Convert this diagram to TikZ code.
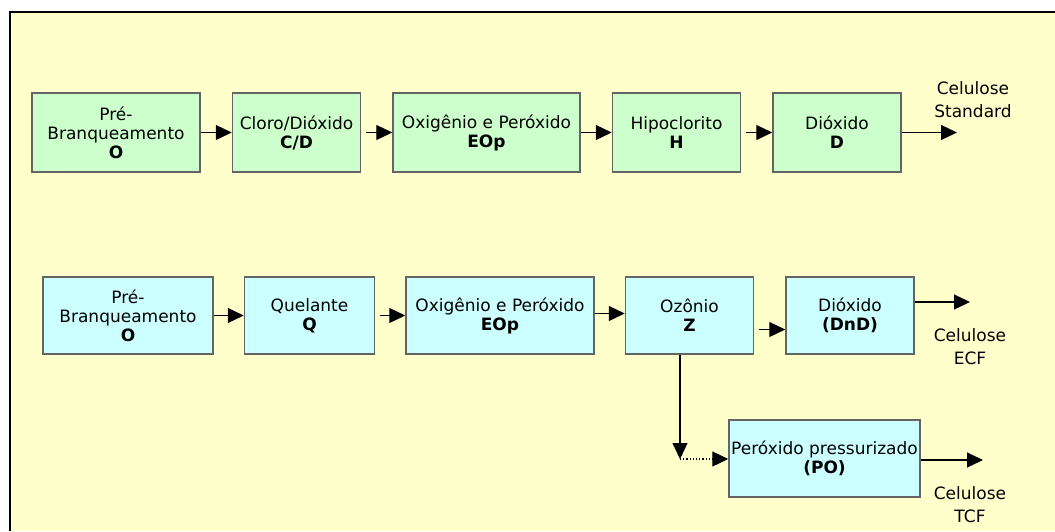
\documentclass[tikz,border=0pt]{standalone}
\usepackage{fontspec}
\setmainfont{DejaVu Sans}
\usepackage{xcolor}
\usetikzlibrary{positioning,arrows.meta}
\definecolor{mybg}{RGB}{255,255,204}
\definecolor{mygreen}{RGB}{204,255,204}
\definecolor{mycyan}{RGB}{204,255,255}
\definecolor{myframe}{RGB}{100,100,100}

\begin{document}
\begin{tikzpicture}[
    x=1pt, y=-1pt,
    node distance=31pt,
    font=\fontsize{17}{19}\selectfont,
    stage/.style={rectangle, draw=myframe, line width=1.5pt, minimum height=79pt, inner sep=0pt, align=center},
    topstage/.style={stage, fill=mygreen},
    lowstage/.style={stage, fill=mycyan, minimum height=77pt},
    arrow/.style={-{Triangle[length=16pt,width=15pt]}, line width=1.2pt},
    outlabel/.style={align=center, inner sep=0pt, font=\fontsize{17}{23}\selectfont},
]
    % Background and frame
    \useasboundingbox (0,0) rectangle (1055,531);
    \fill[white] (0,0) rectangle (1055,531);
    \fill[mybg] (10,12) rectangle (1055,531);
    \draw[line width=2pt] (10,531) -- (10,12) -- (1055,12);

    % Standard line
    \node[topstage, minimum width=168pt] (pre1) at (116,132.5) {Pré-\\Branqueamento\\\textbf{O}};
    \node[topstage, minimum width=128pt, right=of pre1] (cd) {Cloro/Dióxido\\\textbf{C/D}};
    \node[topstage, minimum width=187pt, right=of cd] (eop1) {Oxigênio e Peróxido\\\textbf{EOp}};
    \node[topstage, minimum width=128pt, right=of eop1] (hipo) {Hipoclorito\\\textbf{H}};
    \node[topstage, minimum width=128pt, right=of hipo] (diox1) {Dióxido\\\textbf{D}};

    \draw[arrow] (pre1) -- (cd);
    \draw[arrow, shorten <=5pt] (cd) -- (eop1);
    \draw[arrow] (eop1) -- (hipo);
    \draw[arrow, shorten <=5pt] (hipo) -- (diox1);

    \coordinate (std) at (957,132.5);
    \draw[arrow] (diox1) -- (std);
    \node[outlabel] (stdlabel) at (973,100) {Celulose\\Standard};

    % ECF / TCF line
    \node[lowstage, minimum width=170pt] (pre2) at (128,315.5) {Pré-\\Branqueamento\\\textbf{O}};
    \node[lowstage, minimum width=130pt, right=30pt of pre2] (quel) {Quelante\\\textbf{Q}};
    \node[lowstage, minimum width=188pt, right=30pt of quel] (eop2) {Oxigênio e Peróxido\\\textbf{EOp}};
    \node[lowstage, minimum width=128pt, right=30pt of eop2] (ozon) {Ozônio\\\textbf{Z}};
    \node[lowstage, minimum width=128pt, right=of ozon] (diox2) {Dióxido\\\textbf{(DnD)}};
    \node[lowstage, minimum width=191pt] (pres) at (824.5,458.5) {Peróxido pressurizado\\\textbf{(PO)}};

    \draw[arrow] (pre2) -- (quel);
    \draw[arrow, shorten <=5pt] (quel) -- (eop2);
    \draw[arrow] ([yshift=2pt]eop2.east) -- ([yshift=2pt]ozon.west);
    \draw[arrow, shorten <=5pt] ([yshift=-14pt]ozon.east) -- ([yshift=-14pt]diox2.west);

    \coordinate (ecf) at (970,302);
    \draw[arrow] (diox2.east |- ecf) -- (ecf);
    \node[outlabel] (ecflabel) at (970,347) {Celulose\\ECF};

    % Branch to pressurized peroxide
    \coordinate (turn) at (680,459);
    \draw[arrow] (ozon.south -| turn) -- (turn);
    \draw[arrow, dotted] (turn) -- (pres.west |- turn);

    \coordinate (tcf) at (983,460);
    \draw[arrow] (pres.east |- tcf) -- (tcf);
    \node[outlabel] (tcflabel) at (970,505) {Celulose\\TCF};
\end{tikzpicture}
\end{document}
